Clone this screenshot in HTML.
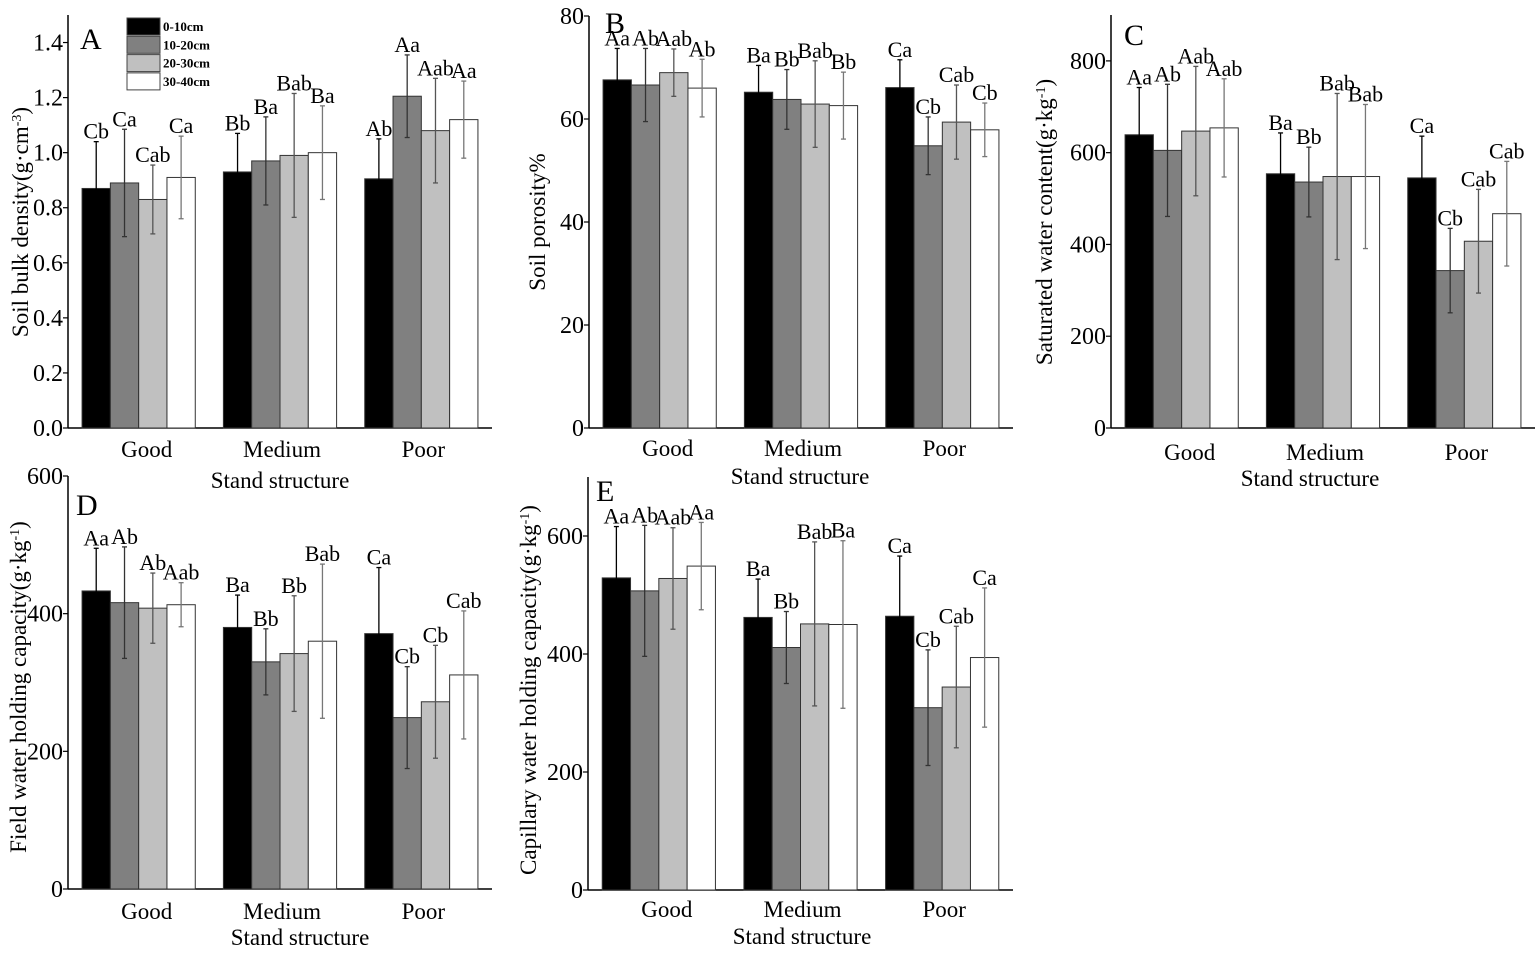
<!DOCTYPE html>
<html><head><meta charset="utf-8">
<style>
html,body{margin:0;padding:0;background:#fff;}
svg{display:block;font-family:"Liberation Serif",serif;}
</style></head>
<body>
<svg id="fig" width="1535" height="953" viewBox="0 0 1535 953" xmlns="http://www.w3.org/2000/svg"></svg>
<script>
const categories = ["Good","Medium","Poor"];
const depths = ["0-10cm","10-20cm","20-30cm","30-40cm"];
// Panel A: soil bulk density
const aValues = [[0.87,0.89,0.83,0.91],[0.93,0.97,0.99,1.00],[0.905,1.205,1.08,1.12]];
const aErrors = [[0.17,0.195,0.125,0.15],[0.14,0.16,0.225,0.17],[0.145,0.15,0.19,0.14]];
const aLetters = [["Cb","Ca","Cab","Ca"],["Bb","Ba","Bab","Ba"],["Ab","Aa","Aab","Aa"]];
const aTicks = ["0.0","0.2","0.4","0.6","0.8","1.0","1.2","1.4"];
// Panel B: soil porosity
const bValues = [[67.6,66.6,69.0,66.0],[65.2,63.8,62.9,62.6],[66.1,54.8,59.4,57.9]];
const bErrors = [[6.1,7.1,4.6,5.6],[5.2,5.8,8.4,6.5],[5.4,5.6,7.2,5.2]];
const bLetters = [["Aa","Ab","Aab","Ab"],["Ba","Bb","Bab","Bb"],["Ca","Cb","Cab","Cb"]];
const bTicks = ["0","20","40","60","80"];
// Panel C: saturated water content
const cValues = [[639,605,647,654],[554,536,548,548],[545,343,407,467]];
const cErrors = [[103,144,141,107],[89,76,181,157],[91,92,113,114]];
const cLetters = [["Aa","Ab","Aab","Aab"],["Ba","Bb","Bab","Bab"],["Ca","Cb","Cab","Cab"]];
const cTicks = ["0","200","400","600","800"];
// Panel D: field water holding capacity
const dValues = [[433,416,408,413],[380,330,342,360],[371,249,272,311]];
const dErrors = [[62,81,51,32],[47,48,84,112],[96,74,82,93]];
const dLetters = [["Aa","Ab","Ab","Aab"],["Ba","Bb","Bb","Bab"],["Ca","Cb","Cb","Cab"]];
const dTicks = ["0","200","400","600"];
// Panel E: capillary water holding capacity
const eValues = [[529,507,528,549],[462,411,451,450],[464,309,344,394]];
const eErrors = [[87,111,86,74],[65,61,139,142],[102,98,103,118]];
const eLetters = [["Aa","Ab","Aab","Aa"],["Ba","Bb","Bab","Ba"],["Ca","Cb","Cab","Ca"]];
const eTicks = ["0","200","400","600"];

const fills = ["#000000","#808080","#c0c0c0","#ffffff"];
const errColors = ["#000000","#333333","#555555","#777777"];
const NS = "http://www.w3.org/2000/svg";
const svg = document.getElementById("fig");

function mk(tag, attrs, parent, text){
  const e = document.createElementNS(NS, tag);
  for (const k in attrs) e.setAttribute(k, attrs[k]);
  if (text !== undefined) e.textContent = text;
  (parent || svg).appendChild(e);
  return e;
}

function drawPanel(p){
  const g = mk("g", {});
  
  
  const yScale = v => p.y0 - (v / p.ymax) * (p.y0 - p.yTop);
  const slot = (p.x1 - p.x0) / 3;
  const bw = 28.3;
  const ya = mk("line", {x1:p.x0, y1:p.yTop, x2:p.x0, y2:p.y0, stroke:"#000","stroke-width":1.5}, g);
  
  
  const xa = mk("line", {x1:p.x0, y1:p.y0, x2:p.x1, y2:p.y0, stroke:"#000","stroke-width":1.5}, g);
  
  
  p.ticks.forEach(t => {
    const y = yScale(parseFloat(t));
    mk("line", {x1:p.x0-5, y1:y, x2:p.x0, y2:y, stroke:"#000","stroke-width":1.2}, g);
    const tl = mk("text", {x:p.x0-5, y:y+8, "text-anchor":"end","font-size":24}, g, t);
    
    
  });
  categories.forEach((c, ci) => {
    const gx = p.x0 + slot*ci + (slot - 4*bw)/2;
    p.values[ci].forEach((v, si) => {
      const x = gx + si*bw;
      const y = yScale(v);
      const r = mk("rect", {x:x, y:y, width:bw, height:p.y0-y, fill:fills[si], stroke:"#333","stroke-width":1}, g);
      
      
      const sd = p.errors[ci][si];
      const cx = x + bw/2;
      const yt = yScale(v + sd), yb = yScale(v - sd);
      const eg = mk("g", {stroke:errColors[si], "stroke-width":1.3}, g);
      
      
      mk("line", {x1:cx, y1:yt, x2:cx, y2:yb}, eg);
      mk("line", {x1:cx-2.5, y1:yt, x2:cx+2.5, y2:yt}, eg);
      mk("line", {x1:cx-2.5, y1:yb, x2:cx+2.5, y2:yb}, eg);
      const lt = mk("text", {x:cx, y:yt-3, "text-anchor":"middle","font-size":22}, g, p.letters[ci][si]);
      
      
    });
    const cl = mk("text", {x:gx + 2*bw + (ci===0?8:2), y:p.catY, "text-anchor":"middle","font-size":23}, g, c);
    
    
  });
  const xt = mk("text", {x:p.xtX, y:p.xtY, "text-anchor":"middle","font-size":23}, g, "Stand structure");
  
  
  const yt = mk("text", {x:0, y:0, "text-anchor":"middle","font-size":23, transform:`translate(${p.ytX},${p.ytY}) rotate(-90)`}, g);
  
  
  yt.appendChild(document.createTextNode(p.ytitle));
  if (p.sup){
    mk("tspan", {"baseline-shift":"super","font-size":14}, yt, p.sup);
    mk("tspan", {}, yt, ")");
  }
  const pl = mk("text", {x:p.lx, y:p.ly, "font-size":30}, g, p.key.toUpperCase());
  
  
}

drawPanel({key:"a", values:aValues, errors:aErrors, letters:aLetters, ticks:aTicks, ymax:1.5,
  x0:68, x1:492, y0:428, yTop:15, catY:457, xtX:280, xtY:488,
  ytitle:"Soil bulk density(g·cm", sup:"-3", ytX:28, ytY:222, lx:80, ly:49});
drawPanel({key:"b", values:bValues, errors:bErrors, letters:bLetters, ticks:bTicks, ymax:80,
  x0:589, x1:1013, y0:428, yTop:16, catY:456, xtX:800, xtY:484,
  ytitle:"Soil porosity%", sup:null, ytX:545, ytY:222, lx:605, ly:33});
drawPanel({key:"c", values:cValues, errors:cErrors, letters:cLetters, ticks:cTicks, ymax:900,
  x0:1111, x1:1535, y0:428, yTop:15, catY:460, xtX:1310, xtY:486,
  ytitle:"Saturated water content(g·kg", sup:"-1", ytX:1052, ytY:222, lx:1124, ly:45});
drawPanel({key:"d", values:dValues, errors:dErrors, letters:dLetters, ticks:dTicks, ymax:600,
  x0:68, x1:492, y0:889, yTop:476, catY:919, xtX:300, xtY:945,
  ytitle:"Field water holding capacity(g·kg", sup:"-1", ytX:26, ytY:687, lx:76, ly:515});
drawPanel({key:"e", values:eValues, errors:eErrors, letters:eLetters, ticks:eTicks, ymax:700,
  x0:588, x1:1013, y0:890, yTop:477, catY:917, xtX:802, xtY:944,
  ytitle:"Capillary water holding capacity(g·kg", sup:"-1", ytX:536, ytY:690, lx:596, ly:501});

const lg = mk("g", {});


depths.forEach((d, i) => {
  const y = 18 + i*18.3;
  const r = mk("rect", {x:127, y:y, width:33, height:17, fill:fills[i], stroke:"#444","stroke-width":1}, lg);
  
  
  const t = mk("text", {x:163, y:y+13, "font-size":13, "font-weight":"bold"}, lg, d);
  
  
});
</script>
</body></html>
